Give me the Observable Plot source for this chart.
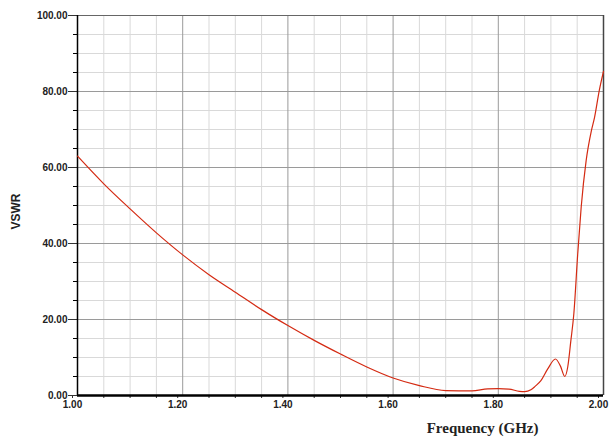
<!DOCTYPE html>
<html>
<head>
<meta charset="utf-8">
<script src="https://cdn.jsdelivr.net/npm/d3@7"></script>
<script src="https://cdn.jsdelivr.net/npm/@observablehq/plot@0.6"></script>
<style>
  html, body { margin: 0; padding: 0; background: #fff; }
  #chart { width: 609px; height: 439px; }
</style>
</head>
<body>
<div id="chart"></div>
<script>
// Frequency (GHz) and VSWR values
const freq = [1.00, 1.05, 1.10, 1.15, 1.20, 1.25, 1.30, 1.35, 1.40, 1.45, 1.50, 1.55, 1.60, 1.65, 1.70, 1.75, 1.78, 1.80, 1.82, 1.84, 1.85, 1.862, 1.87, 1.881, 1.894, 1.9086, 1.918, 1.9264, 1.932, 1.938, 1.9436, 1.951, 1.9576, 1.967, 1.977, 1.983, 1.992, 2.00];
const vswr = [63.0, 55.7, 49.1, 42.8, 37.0, 31.8, 27.2, 22.6, 18.4, 14.5, 10.9, 7.5, 4.6, 2.6, 1.3, 1.2, 1.75, 1.8, 1.7, 1.1, 1.0, 1.5, 2.4, 3.9, 7.0, 9.6, 7.8, 5.0, 7.5, 14.5, 21.5, 37.3, 49.6, 61.8, 69.7, 73.2, 80.3, 85.3];

const xMajor = [1.0, 1.2, 1.4, 1.6, 1.8, 2.0];
const yMajor = [0, 20, 40, 60, 80, 100];
const xGridMinor = [1.05, 1.10, 1.15, 1.25, 1.30, 1.35, 1.45, 1.50, 1.55, 1.65, 1.70, 1.75, 1.85, 1.90, 1.95];
const yGridMinor = [5, 10, 15, 25, 30, 35, 45, 50, 55, 65, 70, 75, 85, 90, 95];

const data = freq.map((f, i) => ({f, v: vswr[i]}));

const plot = Plot.plot({
  width: 609,
  height: 439,
  marginTop: 15,
  marginRight: 6,
  marginBottom: 44,
  marginLeft: 77,
  style: {background: "#fff", fontFamily: "'Liberation Sans', Arial, sans-serif", fontSize: "10px", fontWeight: "bold", color: "#222"},
  x: {domain: [1, 2], label: null},
  y: {domain: [0, 100], label: null},
  marks: [
    Plot.ruleX(xGridMinor, {stroke: "#d9d9d9", strokeWidth: 1}),
    Plot.ruleY(yGridMinor, {stroke: "#d9d9d9", strokeWidth: 1}),
    Plot.ruleX(xMajor.slice(1, -1), {stroke: "#9a9a9a", strokeWidth: 1}),
    Plot.ruleY(yMajor.slice(1, -1), {stroke: "#9a9a9a", strokeWidth: 1}),
    Plot.ruleY([100], {stroke: "#666", strokeWidth: 1}),
    Plot.ruleX([2], {stroke: "#444", strokeWidth: 1.5}),
    Plot.axisY(yGridMinor, {tickSize: 4, text: null, label: null, stroke: "#000"}),
    Plot.axisY(yMajor, {tickSize: 9, tickPadding: 1, tickFormat: d => d.toFixed(2), label: null, fill: "#222", fontWeight: "bold", fontSize: 10, stroke: "#333"}),
    Plot.axisX(xGridMinor, {tickSize: 3, text: null, label: null, stroke: "#333"}),
    Plot.axisX(xMajor, {tickSize: 3, tickPadding: 2, dx: -5, tickFormat: d => d.toFixed(2), label: null, fill: "#222", fontWeight: "bold", fontSize: 10, stroke: "#333"}),
    Plot.ruleX([1], {stroke: "#000", strokeWidth: 1.5}),
    Plot.ruleY([0], {stroke: "#000", strokeWidth: 2.5}),
    Plot.line(data, {x: "f", y: "v", stroke: "#d42a12", strokeWidth: 1.2, curve: "monotone-x"}),
    Plot.text(["Frequency (GHz)"], {frameAnchor: "bottom-right", dx: -65, dy: 37, fontFamily: "'Liberation Serif', 'Times New Roman', serif", fontSize: 15, fontWeight: "bold", fill: "#222", textAnchor: "end", lineAnchor: "bottom"}),
    Plot.text(["VSWR"], {frameAnchor: "left", dx: -61, dy: 24, rotate: -90, fontFamily: "'Liberation Sans', Arial, sans-serif", fontSize: 12, fontWeight: "bold", fill: "#222"})
  ]
});
document.getElementById("chart").appendChild(plot);
</script>
</body>
</html>
